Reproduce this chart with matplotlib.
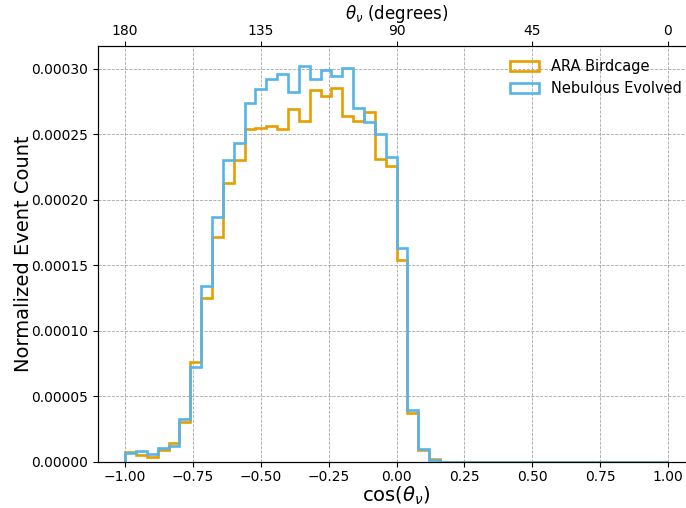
import numpy as np
import matplotlib
matplotlib.use("Agg")
import matplotlib.pyplot as plt

# cos(theta_nu) binning: 50 bins over [-1, 1]
bin_edges = np.linspace(-1.0, 1.0, 51)
bin_centers = 0.5 * (bin_edges[:-1] + bin_edges[1:])

# normalized event counts per bin (units of 1e-6)
ara_birdcage = [
    7.9, 5.3, 4.0, 9.2, 14.3, 30.8, 76.0, 125.4, 171.5, 213.2,
    230.5, 254.2, 255.2, 256.7, 254.2, 269.4, 260.3, 284.0, 279.4, 285.3,
    263.7, 260.5, 267.0, 231.0, 226.0, 154.4, 37.2, 9.2, 2.0, 0.3,
    0, 0, 0, 0, 0, 0, 0, 0, 0, 0,
    0, 0, 0, 0, 0, 0, 0, 0, 0, 0,
]
nebulous_evolved = [
    6.6, 8.4, 6.1, 10.5, 12.2, 32.8, 72.7, 134.4, 187.3, 230.5,
    243.7, 273.8, 284.5, 292.6, 296.1, 282.2, 302.3, 292.6, 299.2, 294.9,
    300.5, 270.0, 259.3, 250.1, 232.8, 163.1, 39.7, 9.9, 1.5, 0.2,
    0, 0, 0, 0, 0, 0, 0, 0, 0, 0,
    0, 0, 0, 0, 0, 0, 0, 0, 0, 0,
]
ara_birdcage = np.array(ara_birdcage) * 1e-6
nebulous_evolved = np.array(nebulous_evolved) * 1e-6

cos_ticks = [-1.0, -0.75, -0.5, -0.25, 0.0, 0.25, 0.5, 0.75, 1.0]
deg_ticks = [-1.0, -0.5, 0.0, 0.5, 1.0]
deg_labels = ["180", "135", "90", "45", "0"]

fig = plt.figure(figsize=(6.86, 5.08), dpi=100)
ax = fig.add_axes([0.1429, 0.0906, 0.8702, 0.8188])

ax.hist(bin_centers, bins=bin_edges, weights=ara_birdcage, histtype="step",
        color="#E69F00", linewidth=1.9, label="ARA Birdcage")
ax.hist(bin_centers, bins=bin_edges, weights=nebulous_evolved, histtype="step",
        color="#56B4E9", linewidth=1.9, label="Nebulous Evolved")

ymax = max(ara_birdcage.max(), nebulous_evolved.max())
ax.set_xlim(-1.1, 1.1)
ax.set_ylim(0, ymax * 1.05)
ax.set_xticks(cos_ticks)
ax.tick_params(axis="x", pad=2.5)
ax.set_xlabel(r"cos($\theta_\nu$)", fontsize=14, labelpad=0.5)
ax.set_ylabel("Normalized Event Count", fontsize=14, labelpad=-1)
ax.grid(True, linestyle="--", color="gray", linewidth=0.6, alpha=0.7)
ax.legend(loc="upper right", frameon=False, fontsize=10.5)

# angle axis on top
ax_top = ax.twiny()
ax_top.set_xlim(ax.get_xlim())
ax_top.set_xticks(deg_ticks)
ax_top.set_xticklabels(deg_labels)
ax_top.tick_params(axis="x", pad=2.5)
ax_top.set_xlabel(r"$\theta_\nu$ (degrees)", fontsize=12, labelpad=3.5)

fig.savefig("out.png", dpi=100)
